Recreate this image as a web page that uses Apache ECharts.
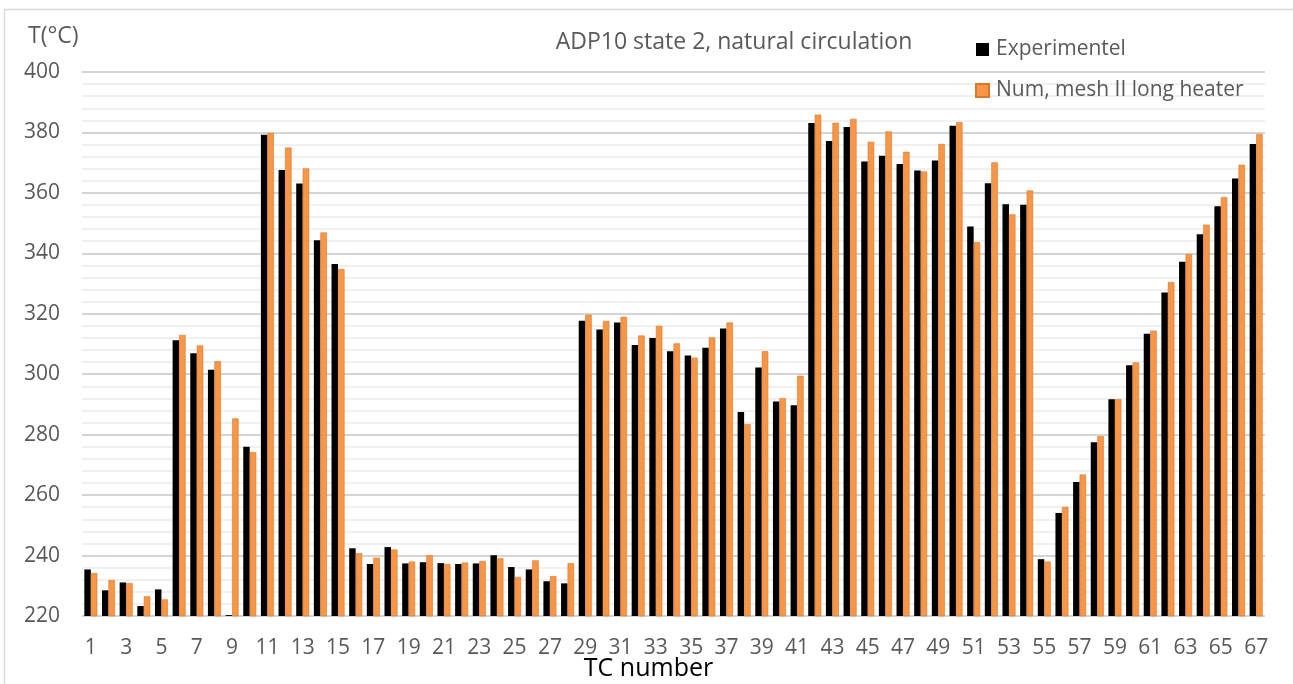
<!DOCTYPE html>
<html>
<head>
<meta charset="utf-8">
<script src="https://cdn.jsdelivr.net/npm/echarts@6/dist/echarts.min.js"></script>
<style>html,body{margin:0;padding:0;background:#fff}#chart{width:1293px;height:684px}</style>
</head>
<body>
<div id="chart"></div>
<script>
var categories = [];
for (var i = 1; i <= 67; i++) categories.push(String(i));

var experimental = [
  235.4, 228.5, 231.1, 223.3, 228.8, 311.2, 306.9, 301.5, 220.3, 276.0,
  379.2, 367.6, 363.1, 344.3, 336.5, 242.4, 237.2, 242.8, 237.4, 237.8,
  237.5, 237.2, 237.4, 240.1, 236.2, 235.4, 231.5, 230.8, 317.7, 314.8,
  317.1, 309.7, 312.0, 307.6, 306.2, 308.8, 315.1, 287.5, 302.2, 291.0,
  289.7, 383.1, 377.2, 381.8, 370.4, 372.3, 369.6, 367.4, 370.7, 382.2,
  348.9, 363.2, 356.2, 356.1, 238.8, 254.1, 264.3, 277.5, 291.7, 303.0,
  313.4, 327.0, 337.2, 346.3, 355.6, 364.8, 376.2
];
var numerical = [
  234.2, 231.9, 230.9, 226.5, 225.5, 313.0, 309.5, 304.3, 285.4, 274.2,
  379.8, 375.0, 368.1, 346.9, 334.8, 240.8, 239.3, 242.0, 238.0, 240.1,
  237.2, 237.7, 238.2, 239.1, 232.9, 238.4, 233.2, 237.5, 319.7, 317.6,
  319.0, 312.8, 316.0, 310.2, 305.5, 312.2, 317.1, 283.5, 307.6, 292.1,
  299.5, 385.9, 383.2, 384.5, 376.9, 380.3, 373.6, 367.1, 376.2, 383.4,
  343.7, 370.1, 352.9, 360.8, 238.0, 256.1, 266.8, 279.5, 291.7, 303.9,
  314.4, 330.5, 339.7, 349.5, 358.6, 369.3, 379.5
];
var yTicks = { min: 220, max: 400, interval: 20 };

var chart = echarts.init(document.getElementById('chart'), null, { renderer: 'canvas' });
var FONT = 'Open Sans';
chart.setOption({
  backgroundColor: '#ffffff',
  animation: false,
  textStyle: { fontFamily: FONT },
  title: {
    text: 'ADP10 state 2, natural circulation',
    left: 729, top: 24, textAlign: 'center',
    textStyle: { color: '#595959', fontSize: 23, fontWeight: 'normal', fontFamily: FONT, lineHeight: 26 }
  },
  legend: {
    orient: 'vertical',
    left: 970, top: 33,
    itemWidth: 13, itemHeight: 13,
    itemGap: 18,
    icon: 'rect',
    textStyle: { color: '#595959', fontSize: 21, lineHeight: 23, fontFamily: FONT, padding: [0, 0, 0, 2] },
    data: ['Experimentel', 'Num, mesh II long heater']
  },
  grid: { left: 82, right: 28, top: 72, bottom: 68, containLabel: false, outerBoundsMode: 'none' },
  xAxis: {
    type: 'category',
    data: categories,
    name: 'TC number',
    nameLocation: 'middle',
    nameGap: 40,
    nameMoveOverlap: false,
    nameTextStyle: { color: '#000000', fontSize: 25, fontFamily: FONT, padding: [0, 50, 0, 0] },
    axisLine: { show: false },
    axisTick: { show: false },
    axisLabel: { interval: 1, color: '#595959', fontSize: 21, margin: 22, fontFamily: FONT },
    splitLine: { show: false }
  },
  yAxis: {
    type: 'value',
    min: yTicks.min, max: yTicks.max, interval: yTicks.interval,
    name: 'T(°C)',
    nameLocation: 'end',
    nameGap: 24,
    nameTextStyle: { color: '#595959', fontSize: 23, fontFamily: FONT, align: 'left', padding: [0, 0, 0, -54] },
    axisLine: { show: false },
    axisTick: { show: false },
    axisLabel: { color: '#595959', fontSize: 21, margin: 22, fontFamily: FONT },
    splitLine: { show: true, lineStyle: { color: '#d4d4d4', width: 2 } },
    minorTick: { show: false, splitNumber: 5 },
    minorSplitLine: { show: true, lineStyle: { color: '#ebebeb', width: 1.5 } }
  },
  graphic: [{
    type: 'rect',
    shape: { x: 4.5, y: 9.5, width: 1500, height: 900 },
    style: { fill: 'none', stroke: '#d9d9d9', lineWidth: 1.5 },
    silent: true, z: -1
  }],
  series: [
    {
      name: 'Experimentel', type: 'bar', data: experimental,
      barWidth: 6.5, barGap: '0%',
      itemStyle: { color: '#000000' }
    },
    {
      name: 'Num, mesh II long heater', type: 'bar', data: numerical,
      barWidth: 6.5, barGap: '0%',
      itemStyle: { color: '#F79646', borderColor: '#d9782e', borderWidth: 0.6 }
    }
  ]
});
</script>
</body>
</html>
